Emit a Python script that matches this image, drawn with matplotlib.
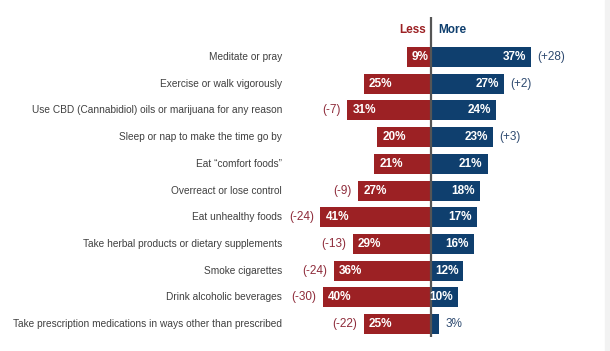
import matplotlib.pyplot as plt
from matplotlib.patches import Rectangle

plt.rcParams['font.family'] = ['Liberation Sans', 'DejaVu Sans']

categories = [
    "Meditate or pray",
    "Exercise or walk vigorously",
    "Use CBD (Cannabidiol) oils or marijuana for any reason",
    "Sleep or nap to make the time go by",
    "Eat \u201ccomfort foods\u201d",
    "Overreact or lose control",
    "Eat unhealthy foods",
    "Take herbal products or dietary supplements",
    "Smoke cigarettes",
    "Drink alcoholic beverages",
    "Take prescription medications in ways other than prescribed",
]
less = [9, 25, 31, 20, 21, 27, 41, 29, 36, 40, 25]
more = [37, 27, 24, 23, 21, 18, 17, 16, 12, 10, 3]

RED = '#9C2124'
BLUE = '#0F3F6E'
RED_TXT = '#8E2B3A'
BLUE_TXT = '#2E4A70'
GREY_TXT = '#404040'

fig = plt.figure(figsize=(6.10, 3.51), dpi=100)
fig.patches.append(Rectangle((605 / 610, 0), 5 / 610, 1, transform=fig.transFigure,
                             color='#F2F2F2', zorder=0))
ax = fig.add_axes([0.5074, 0.0387, 0.4869, 0.9128])
ax.set_xlim(-45, 65)
ax.set_ylim(10.5, -1.5)
ax.axis('off')

ys = list(range(len(categories)))
ax.barh(ys, [-v for v in less], height=0.75, color=RED, zorder=2)
ax.barh(ys, more, height=0.75, color=BLUE, zorder=2)
ax.axvline(0, color='#555555', lw=1.6, zorder=3)

for y, cat, l, m in zip(ys, categories, less, more):
    ax.text(-55.2, y, cat, ha='right', va='center', fontsize=7.3, color=GREY_TXT, clip_on=False)
    ax.text(-l + 1.9, y, f"{l}%", ha='left', va='center', fontsize=8.5,
            fontweight='bold', color='white', zorder=4)
    if m >= 8:
        ax.text(m - 1.9, y, f"{m}%", ha='right', va='center', fontsize=8.5,
                fontweight='bold', color='white', zorder=4)
    else:
        ax.text(m + 2.5, y, f"{m}%", ha='left', va='center', fontsize=8.5,
                color=BLUE_TXT, zorder=4)
    d = m - l
    if d > 0:
        ax.text(m + 2.4, y, f"(+{d})", ha='left', va='center', fontsize=8.5, color=BLUE_TXT)
    elif d < 0:
        ax.text(-l - 2.4, y, f"({d})", ha='right', va='center', fontsize=8.5, color=RED_TXT)

ax.text(-2.0, -1, "Less", ha='right', va='center', fontsize=8.5, fontweight='bold', color=RED)
ax.text(2.8, -1, "More", ha='left', va='center', fontsize=8.5, fontweight='bold', color=BLUE)

fig.savefig('out.png', dpi=100)
